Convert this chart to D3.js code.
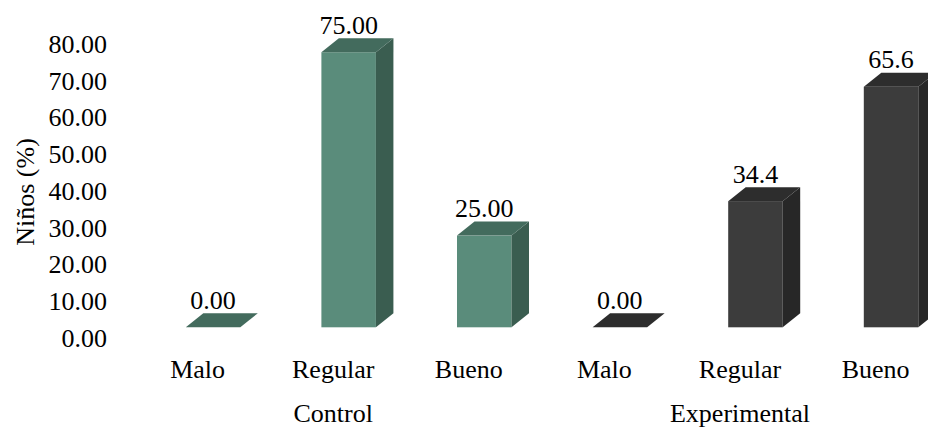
<!DOCTYPE html>
<html>
<head>
<meta charset="utf-8">
<script src="https://cdn.jsdelivr.net/npm/d3@7"></script>
<style>
  html, body { margin: 0; padding: 0; background: #fff; }
  svg { display: block; font-family: "Liberation Serif", "Times New Roman", serif; }
</style>
</head>
<body>
<svg id="chart" width="928" height="430"></svg>
<script>
// Categories and groups
const categories = ["Malo", "Regular", "Bueno"];
const groups = ["Control", "Experimental"];

// Percentages per group
const controlValues = [0, 75, 25];
const experimentalValues = [0, 34.4, 65.6];

// Value labels as printed above each bar
const controlLabels = ["0.00", "75.00", "25.00"];
const experimentalLabels = ["0.00", "34.4", "65.6"];

// Y axis ticks
const yTicks = [0, 10, 20, 30, 40, 50, 60, 70, 80];
const yTitle = "Niños (%)";

// Colours: front, top, side per group
const palette = {
  Control: { front: "#5a8c7b", top: "#436b5d", side: "#3a5d50" },
  Experimental: { front: "#3c3c3c", top: "#2d2d2d", side: "#272727" }
};

const rows = [];
groups.forEach((g, gi) => {
  const vals = gi === 0 ? controlValues : experimentalValues;
  const labs = gi === 0 ? controlLabels : experimentalLabels;
  categories.forEach((c, ci) => {
    rows.push({ key: g + "-" + c, group: g, category: c, value: vals[ci], label: labs[ci] });
  });
});

const svg = d3.select("#chart");
const fontSize = 26;

// Horizontal layout: six slots
const x = d3.scaleBand()
  .domain(rows.map(d => d.key))
  .range([129.8, 943.4]);

// Axis scale (labels) and bar scale (front face of the 3D columns)
const yAxisScale = d3.scaleLinear().domain([0, 80]).range([337.7, 44.3]);
const yBar = d3.scaleLinear().domain([0, 80]).range([327.3, 33.9]);

// 3D depth offset
const depthX = 17.5, depthY = -14;
const barW = x.bandwidth() * 0.402;
const barShift = -11.8; // front-left edge relative to slot centre

// Y axis labels
const yAxis = d3.axisLeft(yAxisScale)
  .tickValues(yTicks)
  .tickFormat(d3.format(".2f"))
  .tickSize(0)
  .tickPadding(0);

const gy = svg.append("g").attr("transform", "translate(107,0)").call(yAxis);
gy.select(".domain").remove();
gy.selectAll("text")
  .attr("fill", "#000")
  .style("font-family", "'Liberation Serif', 'Times New Roman', serif")
  .style("font-size", fontSize + "px");

// Y axis title
svg.append("text")
  .attr("transform", "translate(34,192) rotate(-90)")
  .attr("text-anchor", "middle")
  .attr("font-size", fontSize)
  .attr("fill", "#000")
  .text(yTitle);

// Bars
const bars = svg.append("g").selectAll("g.bar").data(rows).join("g").attr("class", "bar");

bars.each(function(d) {
  const g = d3.select(this);
  const col = palette[d.group];
  const x0 = x(d.key) + x.bandwidth() / 2 + barShift;
  const x1 = x0 + barW;
  const yb = yBar(0);
  const yt = yBar(d.value);

  // front face
  if (d.value > 0) {
    g.append("rect")
      .attr("x", x0).attr("y", yt)
      .attr("width", barW).attr("height", yb - yt)
      .attr("fill", col.front);
    // side face
    g.append("path")
      .attr("d", `M${x1},${yt}L${x1 + depthX},${yt + depthY}L${x1 + depthX},${yb + depthY}L${x1},${yb}Z`)
      .attr("fill", col.side);
  }
  // top face
  g.append("path")
    .attr("d", `M${x0},${yt}L${x1},${yt}L${x1 + depthX},${yt + depthY}L${x0 + depthX},${yt + depthY}Z`)
    .attr("fill", col.top);

  // value label
  g.append("text")
    .attr("x", x0 + barW / 2)
    .attr("y", yt - 18.5)
    .attr("text-anchor", "middle")
    .attr("font-size", fontSize)
    .attr("fill", "#000")
    .text(d.label);
});

// Category labels
svg.append("g").selectAll("text").data(rows).join("text")
  .attr("x", d => x(d.key) + x.bandwidth() / 2)
  .attr("y", 378)
  .attr("text-anchor", "middle")
  .attr("font-size", fontSize)
  .attr("fill", "#000")
  .text(d => d.category);

// Group labels, centred under each group of three slots
svg.append("g").selectAll("text").data(groups).join("text")
  .attr("x", g => {
    const keys = rows.filter(r => r.group === g).map(r => r.key);
    return (x(keys[0]) + x(keys[keys.length - 1]) + x.bandwidth()) / 2;
  })
  .attr("y", 422)
  .attr("text-anchor", "middle")
  .attr("font-size", fontSize)
  .attr("fill", "#000")
  .text(g => g);
</script>
</body>
</html>
